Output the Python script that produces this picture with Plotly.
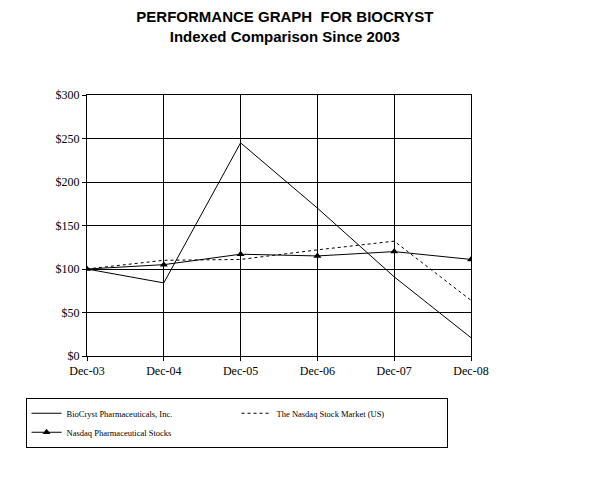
import plotly.graph_objects as go

years = ["Dec-03", "Dec-04", "Dec-05", "Dec-06", "Dec-07", "Dec-08"]
biocryst = [100, 84, 245, 170, 91, 21]
nasdaq = [100, 110, 111, 122, 132, 64]
pharma = [100, 105, 117, 115, 120, 111]

fig = go.Figure()
fig.add_trace(go.Scatter(x=years, y=biocryst, mode="lines", name="BioCryst Pharmaceuticals, Inc.",
                         line=dict(color="black", width=1)))
fig.add_trace(go.Scatter(x=years, y=nasdaq, mode="lines", name="The Nasdaq Stock Market (US)",
                         line=dict(color="black", width=1, dash="dot")))
fig.add_trace(go.Scatter(x=years, y=pharma, mode="lines+markers", name="Nasdaq Pharmaceutical Stocks",
                         line=dict(color="black", width=1), marker=dict(symbol="triangle-up", size=7, color="black")))

fig.update_layout(
    width=589, height=479, paper_bgcolor="white", plot_bgcolor="white",
    margin=dict(l=79, r=126, t=87, b=131),
    title=dict(text="<b>PERFORMANCE GRAPH  FOR BIOCRYST</b><br><b>Indexed Comparison Since 2003</b>",
               x=0.47, xanchor="center", y=0.97, yanchor="top",
               font=dict(family="Liberation Sans, Arial", size=15, color="black")),
    font=dict(family="Liberation Serif, Times New Roman", size=12, color="black"),
    showlegend=True,
    legend=dict(orientation="h", x=-0.16, y=-0.16, xanchor="left", yanchor="top",
                bordercolor="black", borderwidth=1, font=dict(size=8.5),
                entrywidth=165, itemwidth=30, tracegroupgap=0),
)
fig.update_xaxes(type="category", range=[0, 5], showline=True, linecolor="black", mirror=True,
                 showgrid=True, gridcolor="black", gridwidth=1, ticks="outside", ticklen=4, tickcolor="black")
fig.update_yaxes(range=[0, 300], dtick=50, tickprefix="$", showline=True, linecolor="black", mirror=True,
                 showgrid=True, gridcolor="black", gridwidth=1, zeroline=False, ticks="outside", ticklen=4, tickcolor="black")

fig.write_html("out.html")
